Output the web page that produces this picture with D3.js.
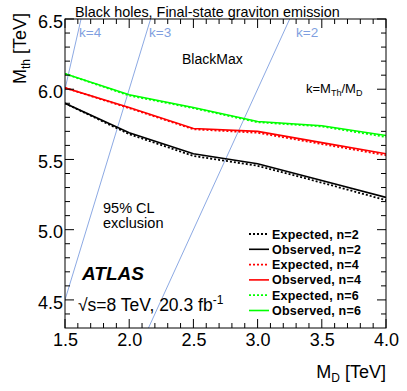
<!DOCTYPE html>
<html>
<head>
<meta charset="utf-8">
<script src="https://cdn.jsdelivr.net/npm/d3@7"></script>
<style>
  body { margin: 0; background: #fff; }
  svg text { font-family: "Liberation Sans", Arial, Helvetica, sans-serif; }
</style>
</head>
<body>
<div id="chart"></div>
<script>
// values (TeV)
var mD = [1.5, 2.0, 2.5, 3.0, 3.5, 4.0];
var expN2 = [5.90, 5.68, 5.525, 5.455, 5.335, 5.21];
var obsN2 = [5.90, 5.69, 5.54, 5.47, 5.35, 5.23];
var expN4 = [6.01, 5.865, 5.715, 5.69, 5.61, 5.53];
var obsN4 = [6.01, 5.87, 5.72, 5.70, 5.62, 5.54];
var expN6 = [6.11, 5.955, 5.865, 5.765, 5.735, 5.66];
var obsN6 = [6.11, 5.96, 5.87, 5.77, 5.74, 5.67];
var kValues = [4, 3, 2];
var xTicks = [1.5, 2.0, 2.5, 3.0, 3.5, 4.0];
var yTicks = [4.5, 5.0, 5.5, 6.0, 6.5];

var w = 407, h = 391;
var pLeft = 65, pRight = 386, pTop = 19, pBottom = 328;

var svg = d3.select("#chart").append("svg")
    .attr("width", w)
    .attr("height", h);

var x = d3.scaleLinear().domain([1.5, 4.0]).range([pLeft, pRight]);
var y = d3.scaleLinear().domain([4.3, 6.5]).range([pBottom, pTop]);

svg.append("clipPath")
    .attr("id", "plotclip")
    .append("rect")
    .attr("x", pLeft).attr("y", pTop)
    .attr("width", pRight - pLeft).attr("height", pBottom - pTop);

var plot = svg.append("g").attr("clip-path", "url(#plotclip)");

// k = M_th / M_D lines
var kColor = "#7f9fe0";
kValues.forEach(function (k) {
    plot.append("line")
        .attr("x1", x(1.0)).attr("y1", y(k * 1.0))
        .attr("x2", x(4.0)).attr("y2", y(k * 4.0))
        .attr("stroke", kColor)
        .attr("stroke-width", 0.9);
});

var series = [
    { name: "Expected, n=2", values: expN2, color: "#000", dash: "2,2" },
    { name: "Observed, n=2", values: obsN2, color: "#000", dash: null },
    { name: "Expected, n=4", values: expN4, color: "#ff0000", dash: "2,2" },
    { name: "Observed, n=4", values: obsN4, color: "#ff0000", dash: null },
    { name: "Expected, n=6", values: expN6, color: "#00ff00", dash: "2,2" },
    { name: "Observed, n=6", values: obsN6, color: "#00ff00", dash: null }
];

var line = d3.line()
    .x(function (d) { return x(d[0]); })
    .y(function (d) { return y(d[1]); });

// observed first, expected dotted on top
[1, 0, 3, 2, 5, 4].forEach(function (i) {
    var s = series[i];
    plot.append("path")
        .attr("d", line(mD.map(function (m, j) { return [m, s.values[j]]; })))
        .attr("fill", "none")
        .attr("stroke", s.color)
        .attr("stroke-width", s.dash ? 1.8 : 1.6)
        .attr("stroke-dasharray", s.dash);
});

// axes, ROOT style ticks inside
var xAxis = d3.axisBottom(x).tickValues(xTicks).tickSize(9).tickFormat(d3.format(".1f"));
var yAxis = d3.axisLeft(y).tickValues(yTicks).tickSize(9).tickFormat(d3.format(".1f"));
var xMinor = d3.range(1.6, 4.0, 0.1).filter(function (v) { return Math.abs(v * 2 - Math.round(v * 2)) > 0.01; });
var yMinor = d3.range(4.4, 6.5, 0.1).filter(function (v) { return Math.abs(v * 2 - Math.round(v * 2)) > 0.01; });

var ticks = svg.append("g").attr("stroke", "#000").attr("stroke-width", 1);
xTicks.concat(xMinor).forEach(function (v) {
    var len = xTicks.indexOf(v) >= 0 ? 9 : 5;
    ticks.append("line").attr("x1", x(v)).attr("x2", x(v)).attr("y1", pBottom).attr("y2", pBottom - len);
    ticks.append("line").attr("x1", x(v)).attr("x2", x(v)).attr("y1", pTop).attr("y2", pTop + len);
});
yTicks.concat(yMinor).forEach(function (v) {
    var len = yTicks.indexOf(v) >= 0 ? 9 : 5;
    ticks.append("line").attr("y1", y(v)).attr("y2", y(v)).attr("x1", pLeft).attr("x2", pLeft + len);
    ticks.append("line").attr("y1", y(v)).attr("y2", y(v)).attr("x1", pRight).attr("x2", pRight - len);
});

svg.append("rect")
    .attr("x", pLeft).attr("y", pTop)
    .attr("width", pRight - pLeft).attr("height", pBottom - pTop)
    .attr("fill", "none").attr("stroke", "#000").attr("stroke-width", 1);

var gx = svg.append("g").attr("transform", "translate(0," + pBottom + ")").call(xAxis);
gx.select(".domain").remove();
gx.selectAll(".tick line").remove();
gx.selectAll(".tick text")
    .attr("y", 18).attr("dy", 0)
    .attr("font-size", "18px").attr("fill", "#000");

var gy = svg.append("g").attr("transform", "translate(" + pLeft + ",0)").call(yAxis);
gy.select(".domain").remove();
gy.selectAll(".tick line").remove();
gy.selectAll(".tick text")
    .attr("x", -2).attr("dy", "0.45em")
    .attr("font-size", "18px").attr("fill", "#000");

// axis titles
var xt = svg.append("text")
    .attr("x", pRight).attr("y", 378)
    .attr("text-anchor", "end")
    .attr("font-size", "18px");
xt.append("tspan").text("M");
xt.append("tspan").attr("font-size", "12px").attr("dy", 4).text("D");
xt.append("tspan").attr("dy", -4).text(" [TeV]");

var yt = svg.append("text")
    .attr("transform", "translate(26,13) rotate(-90)")
    .attr("text-anchor", "end")
    .attr("font-size", "18px");
yt.append("tspan").text("M");
yt.append("tspan").attr("font-size", "12px").attr("dy", 4).text("th");
yt.append("tspan").attr("dy", -4).text(" [TeV]");

// labels
svg.append("text")
    .attr("x", 75).attr("y", 16.5)
    .attr("font-size", "14.4px")
    .text("Black holes, Final-state graviton emission");

svg.append("text")
    .attr("x", 182).attr("y", 64)
    .attr("font-size", "14px")
    .text("BlackMax");

var kt = svg.append("text")
    .attr("x", 306).attr("y", 93)
    .attr("font-size", "13px");
kt.append("tspan").text("k=M");
kt.append("tspan").attr("font-size", "9px").attr("dy", 3).text("Th");
kt.append("tspan").attr("dy", -3).text("/M");
kt.append("tspan").attr("font-size", "9px").attr("dy", 3).text("D");

var kLabelX = { 4: 79, 3: 149, 2: 296 };
kValues.forEach(function (k) {
    svg.append("text")
        .attr("x", kLabelX[k]).attr("y", 37)
        .attr("font-size", "13.5px")
        .attr("fill", kColor)
        .text("k=" + k);
});

svg.append("text")
    .attr("x", 103).attr("y", 213)
    .attr("font-size", "14.5px")
    .text("95% CL");
svg.append("text")
    .attr("x", 103).attr("y", 228)
    .attr("font-size", "14.5px")
    .text("exclusion");

svg.append("text")
    .attr("x", 82).attr("y", 280)
    .attr("font-size", "19px")
    .attr("font-weight", "bold")
    .attr("font-style", "italic")
    .text("ATLAS");

var lumi = svg.append("text")
    .attr("x", 78).attr("y", 311)
    .attr("font-size", "17.5px");
lumi.append("tspan").text("\u221As=8 TeV, 20.3 fb");
lumi.append("tspan").attr("font-size", "12px").attr("dy", -7).text("-1");

// legend
var legend = svg.append("g");
series.forEach(function (s, i) {
    var ly = 234 + i * 15.3;
    legend.append("line")
        .attr("x1", 249).attr("x2", 269)
        .attr("y1", ly).attr("y2", ly)
        .attr("stroke", s.color)
        .attr("stroke-width", s.dash ? 1.8 : 1.6)
        .attr("stroke-dasharray", s.dash);
    legend.append("text")
        .attr("x", 272).attr("y", ly + 4.5)
        .attr("font-size", "12.5px")
        .attr("letter-spacing", "0.2px")
        .attr("font-weight", "bold")
        .text(s.name);
});
</script>
</body>
</html>
